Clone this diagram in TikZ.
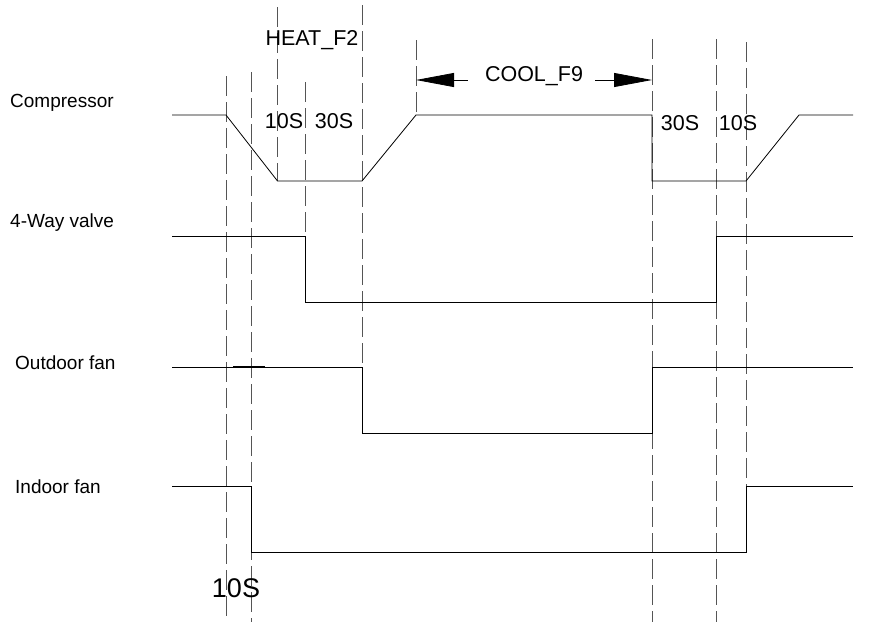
\documentclass[tikz,border=0pt]{standalone}
\usepackage{fontspec}
\setmainfont{Liberation Sans}
\usepackage{xcolor}
\definecolor{guidegray}{RGB}{85,85,85}
\usepackage{tikz}
\usetikzlibrary{arrows.meta}
\newcommand{\guide}[3]{\draw[guideline] (#1,#2) -- (#1,#3);}
\tikzset{
  guideline/.style={guidegray,line width=0.9pt,dash pattern=on 20pt off 6pt},
  signal/.style={black,line width=0.8pt},
  siglabel/.style={anchor=west,inner sep=0pt,font=\fontsize{19}{22}\selectfont},
  timelabel/.style={inner sep=0pt,font=\fontsize{21.5}{25}\selectfont},
  dimarrow/.style={line width=0.8pt,-{Triangle[length=38pt,width=14pt]}}
}

\begin{document}
\begin{tikzpicture}[x=1pt,y=-1pt]
\useasboundingbox (0,0) rectangle (881,622);
% ---- GUIDES ----
\guide{226}{76}{622}
\guide{251.5}{72}{622}
\guide{277.5}{7}{181}
\guide{305}{82}{236}
\guide{362}{5}{367}
\guide{416}{40}{115}
\foreach \x in {652,716}{ \guide{\x}{39}{622} }
\guide{746}{42}{486}
% ---- SIGNALS ----
\node[siglabel] (comp) at (10,103) {Compressor};
\draw[signal] (172,115) -- (226,115) -- (277.5,181) -- (362,181) -- (416,115)
  -- (652,115) -- (652,181) -- (746,181) -- (799,115) -- (853,115);
\node[siglabel] (valve) at (10,223) {4-Way valve};
\draw[signal] (172,236) -- (305,236) -- (305,302) -- (716,302) -- (716,236) -- (853,236);
\node[siglabel] (outfan) at (15,363) {Outdoor fan};
\draw[signal] (172,367) -- (362,367) -- (362,433) -- (652,433) -- (652,367) -- (853,367);
\draw[black,line width=1.6pt] (233,367) -- (265,367);
\node[siglabel] (infan) at (15,487) {Indoor fan};
\draw[signal] (172,486) -- (251.5,486) -- (251.5,552) -- (746,552) -- (746,486) -- (853,486);
% ---- TIMES ----
\node[timelabel] (heat) at (312,40) {HEAT\textunderscore F2};
\node[timelabel] (tA) at (284,121) {10S};
\node[timelabel] (tB) at (334,121) {30S};
\node[timelabel] (tC) at (680,123) {30S};
\node[timelabel] (tD) at (738,123) {10S};
\node[inner sep=0pt,font=\fontsize{27}{30}\selectfont] (tE) at (236,588) {10S};
\node[timelabel] (cool) at (534,76) {COOL\textunderscore F9};
\coordinate (coolL) at (416,80); \coordinate (coolR) at (652,80);
\draw[dimarrow] ([xshift=-17pt]cool.west |- coolL) -- (coolL);
\draw[dimarrow] ([xshift=12pt]cool.east |- coolR) -- (coolR);
\end{tikzpicture}
\end{document}
